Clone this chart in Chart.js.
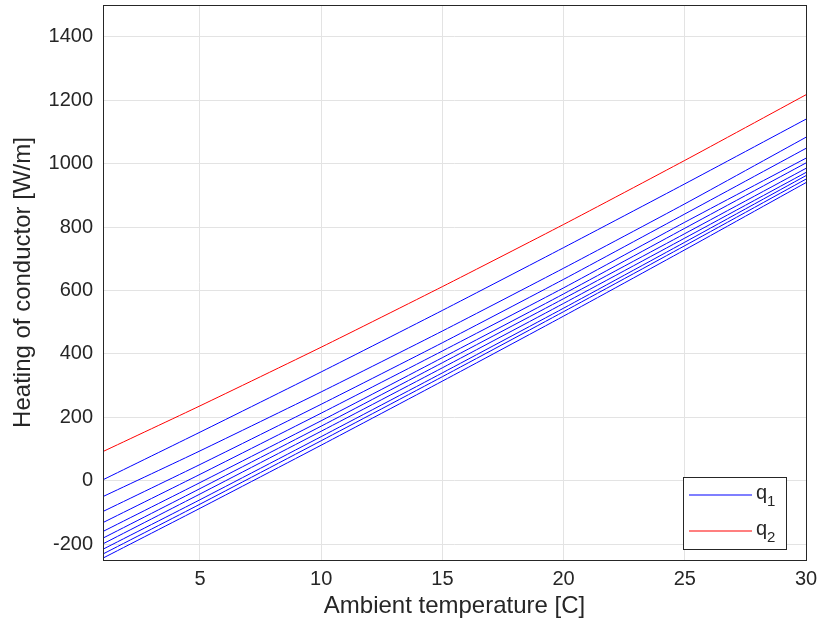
<!DOCTYPE html>
<html>
<head>
<meta charset="utf-8">
<script src="https://cdn.jsdelivr.net/npm/chart.js@4"></script>
<style>
  html, body { margin: 0; padding: 0; background: #fff; }
  #wrap { width: 820px; height: 631px; }
</style>
</head>
<body>
<div id="wrap"><canvas id="lineChart" width="820" height="631"></canvas></div>
<script>
const temps = [1, 5, 10, 15, 20, 25, 30];

// q2 (red)
const q2 = [92, 236, 421, 612, 808, 1010, 1217];

// q1 family (blue), top to bottom
const q1Lines = [
    [3, 153, 343, 537, 735, 936, 1140],
    [-50, 94, 280, 472, 670, 873, 1083],
    [-97, 51, 241, 435, 635, 841, 1048],
    [-132, 20, 213, 409, 608, 815, 1017],
    [-160, -6, 189, 388, 589, 796, 1002],
    [-181, -25, 172, 372, 574, 779, 985],
    [-199, -42, 156, 356, 559, 765, 972],
    [-216, -60, 139, 340, 544, 752, 962],
    [-231, -74, 126, 328, 533, 741, 951],
    [-244, -87, 112, 314, 519, 728, 940]
];

const xTicks = [5, 10, 15, 20, 25, 30];
const yTicks = [-200, 0, 200, 400, 600, 800, 1000, 1200, 1400];

const BLUE = '#0000ff';
const RED = '#ff0000';
const legendItems = [
    { text: 'q', sub: '1', color: BLUE },
    { text: 'q', sub: '2', color: RED }
];

const FONT = 'Liberation Sans, Arial, sans-serif';
const TEXT = '#262626';

function toPoints(vals) {
    return temps.map((t, i) => ({ x: t, y: vals[i] }));
}

const datasets = q1Lines.map(vals => ({
    label: 'q1',
    data: toPoints(vals),
    borderColor: BLUE,
    borderWidth: 1,
    pointRadius: 0,
    tension: 0.2
}));
datasets.push({
    label: 'q2',
    data: toPoints(q2),
    borderColor: RED,
    borderWidth: 1,
    pointRadius: 0,
    tension: 0.2
});

// axes box + legend inside plot area
const boxLegend = {
    id: 'boxLegend',
    afterDraw(chart) {
        const ctx = chart.ctx;
        const a = chart.chartArea;
        ctx.save();
        ctx.strokeStyle = TEXT;
        ctx.lineWidth = 1;
        ctx.strokeRect(Math.round(a.left) + 0.5, Math.round(a.top) + 0.5,
            Math.round(a.right - a.left), Math.round(a.bottom - a.top));

        const w = 103, rowH = 36;
        const h = legendItems.length * rowH;
        const x0 = Math.round(a.right - 20 - w), y0 = Math.round(a.bottom - 11 - h);
        ctx.fillStyle = '#fff';
        ctx.fillRect(x0, y0, w, h);
        ctx.strokeStyle = TEXT;
        ctx.strokeRect(x0 + 0.5, y0 + 0.5, w, h);
        legendItems.forEach((it, i) => {
            const cy = y0 + 18 + i * rowH;
            ctx.strokeStyle = it.color;
            ctx.lineWidth = 1.2;
            ctx.beginPath();
            ctx.moveTo(x0 + 6, cy);
            ctx.lineTo(x0 + 69, cy);
            ctx.stroke();
            ctx.fillStyle = TEXT;
            ctx.textBaseline = 'middle';
            ctx.textAlign = 'left';
            ctx.font = '20px ' + FONT;
            ctx.fillText(it.text, x0 + 73, cy - 2);
            ctx.font = '15px ' + FONT;
            ctx.fillText(it.sub, x0 + 84, cy + 7);
        });
        ctx.restore();
    }
};

const ctx = document.getElementById('lineChart').getContext('2d');
new Chart(ctx, {
    type: 'line',
    data: { datasets: datasets },
    options: {
        responsive: false,
        animation: false,
        layout: { padding: { top: 5, right: 14, left: 0, bottom: 0 } },
        plugins: {
            legend: { display: false },
            tooltip: { enabled: false }
        },
        scales: {
            x: {
                type: 'linear',
                min: 1,
                max: 30,
                afterBuildTicks(scale) {
                    scale.ticks = xTicks.map(v => ({ value: v }));
                },
                afterFit(scale) {
                    scale.height = 71;
                    scale.paddingLeft = 0;
                    scale.paddingRight = 0;
                },
                grid: { color: '#e3e3e3', drawTicks: false },
                border: { display: false },
                ticks: {
                    color: TEXT,
                    font: { family: FONT, size: 20 },
                    padding: 7,
                    maxRotation: 0,
                    callback: v => String(v)
                },
                title: {
                    display: true,
                    text: 'Ambient temperature [C]',
                    color: TEXT,
                    font: { family: FONT, size: 24 },
                    padding: { top: 0, bottom: 10 }
                }
            },
            y: {
                type: 'linear',
                min: -250,
                max: 1500,
                afterBuildTicks(scale) {
                    scale.ticks = yTicks.map(v => ({ value: v }));
                },
                afterFit(scale) {
                    scale.width = 103;
                    scale.paddingTop = 0;
                    scale.paddingBottom = 0;
                },
                grid: { color: '#e3e3e3', drawTicks: false },
                border: { display: false },
                ticks: {
                    color: TEXT,
                    font: { family: FONT, size: 20 },
                    padding: 10,
                    callback: v => String(v)
                },
                title: {
                    display: true,
                    text: 'Heating of conductor [W/m]',
                    color: TEXT,
                    font: { family: FONT, size: 24 },
                    padding: { top: 9, bottom: 0 }
                }
            }
        }
    },
    plugins: [boxLegend]
});
</script>
</body>
</html>
